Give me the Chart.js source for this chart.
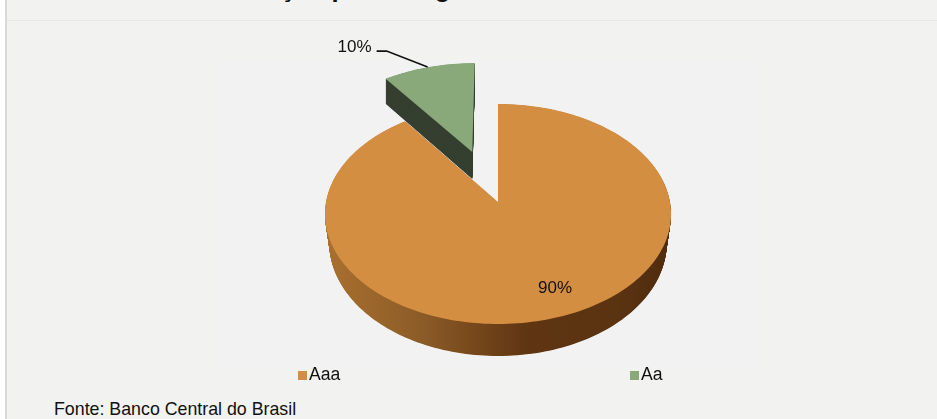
<!DOCTYPE html>
<html lang="pt">
<head>
<meta charset="utf-8">
<title>Distribuição por rating</title>
<script src="https://cdn.jsdelivr.net/npm/chart.js@4"></script>
<style>
    html, body { margin: 0; padding: 0; background: #fff; overflow: hidden; }
    body { font-family: "Liberation Sans", Arial, sans-serif; color: #111; }
    #frame { position: absolute; left: 5px; top: 0; width: 932px; height: 419px; background: #f2f2f0; border-left: 2px solid #d9d9d9; box-sizing: border-box; overflow: hidden; }
    #rule { position: absolute; left: 0; right: 0; top: 20px; height: 1px; background: #e7e7e5; }
    #plot { position: absolute; left: 205px; top: 60px; width: 548px; height: 305px; background: #f2f2f3; }
    #title { position: absolute; left: 170px; top: -27px; font-weight: bold; font-size: 25.5px; line-height: 30px; white-space: nowrap; }
    #source { position: absolute; left: 47px; top: 399px; font-size: 17.8px; line-height: 20px; white-space: nowrap; }
    canvas { position: absolute; left: 0; top: 0; }
    .key { position: absolute; top: 364px; font-size: 17.6px; line-height: 20px; white-space: nowrap; }
    .key i { display: inline-block; width: 9px; height: 9px; margin-right: 2px; }
</style>
</head>
<body>
<div id="frame">
    <div id="title">Distribuição por rating</div>
    <div id="rule"></div>
    <div id="plot"></div>
    <div id="source">Fonte: Banco Central do Brasil</div>
</div>
<canvas id="pieChart" width="937" height="419"></canvas>
<script>
const categories = ['Aaa', 'Aa'];
const shares = [90, 10];
const sliceColors = ['#d38e42', '#8aa97b'];
const keyLeft = [298, 630];

// Tilted disc: horizontal radius, vertical radius, perspective strength, wall height
const tilt = { a: 172, b: 108.7, k: 0.109, depth: 28.5 };
// How much each slice's base narrows compared with its top surface
const wallTaper = [0.025, 0];

// Unit-disc point to screen, nearer (lower) points come out larger
function project(arc, u, v) {
    const w = 1 - tilt.k * v;
    return { x: arc.x + tilt.a * u / w, y: arc.y + tilt.b * v / w, w: w };
}

// Outline of one slice on the unit disc, shifted out by its explode offset
function sliceOutline(arc) {
    const mid = (arc.startAngle + arc.endAngle) / 2;
    const shift = arc.options.offset / arc.outerRadius;
    const ox = Math.cos(mid) * shift;
    const oy = Math.sin(mid) * shift;
    const pts = [project(arc, ox, oy)];
    const steps = Math.ceil((arc.endAngle - arc.startAngle) * 40);
    for (let i = 0; i <= steps; i++) {
        const t = arc.startAngle + (arc.endAngle - arc.startAngle) * i / steps;
        pts.push(project(arc, ox + Math.cos(t), oy + Math.sin(t)));
    }
    return pts;
}

function wallFill(ctx, index) {
    if (index === 1) return '#353f30';
    const g = ctx.createLinearGradient(327, 0, 670, 0);
    g.addColorStop(0, '#a9702f');
    g.addColorStop(0.27, '#8c5c28');
    g.addColorStop(0.42, '#78491c');
    g.addColorStop(0.58, '#5f3512');
    g.addColorStop(0.85, '#5a3311');
    g.addColorStop(1, '#4f2c0e');
    return g;
}

function traceOutline(ctx, pts, centerX, drop, narrow) {
    ctx.beginPath();
    pts.forEach((p, j) => {
        const x = centerX + (p.x - centerX) * (1 - narrow);
        const y = p.y + drop / p.w;
        if (j) ctx.lineTo(x, y); else ctx.moveTo(x, y);
    });
    ctx.closePath();
    ctx.fill();
}

// Replaces the flat arcs with the extruded disc and its labels
const tiltedPie = {
    id: 'tiltedPie',
    beforeDatasetDraw(chart, args) {
        const ctx = chart.ctx;
        const arcs = chart.getDatasetMeta(args.index).data;
        ctx.save();
        arcs.forEach((arc, i) => {
            const pts = sliceOutline(arc);
            // wall: stack the outline from the base up to the top surface
            ctx.fillStyle = wallFill(ctx, i);
            for (let d = tilt.depth; d > 0; d -= 0.5) {
                traceOutline(ctx, pts, arc.x, d, wallTaper[i] * d / tilt.depth);
            }
            ctx.fillStyle = arc.options.backgroundColor;
            traceOutline(ctx, pts, arc.x, 0, 0);
        });

        ctx.font = '17px "Liberation Sans", Arial, sans-serif';
        ctx.fillStyle = '#111';
        ctx.textAlign = 'center';
        ctx.textBaseline = 'middle';

        // large slice: label sits inside the top surface
        const inside = project(arcs[0], 0.305, 0.728);
        ctx.fillText(shares[0] + '%', inside.x, inside.y);

        // small slice: label outside, tied to the rim with a leader
        const small = arcs[1];
        const mid = (small.startAngle + small.endAngle) / 2;
        const shift = small.options.offset / small.outerRadius;
        const rim = project(small, Math.cos(mid) * (1 + shift), Math.sin(mid) * (1 + shift));
        ctx.fillText(shares[1] + '%', rim.x - 74, rim.y - 20);
        ctx.strokeStyle = '#111';
        ctx.lineWidth = 1.6;
        ctx.beginPath();
        ctx.moveTo(rim.x - 52, rim.y - 16);
        ctx.lineTo(rim.x - 42, rim.y - 16);
        ctx.lineTo(rim.x - 1, rim.y);
        ctx.stroke();
        ctx.restore();
        return false;
    }
};

const ctx = document.getElementById('pieChart').getContext('2d');
new Chart(ctx, {
    type: 'pie',
    data: {
        labels: categories,
        datasets: [{
            data: shares,
            backgroundColor: sliceColors,
            borderWidth: 0,
            offset: [0, 82]
        }]
    },
    options: {
        responsive: false,
        animation: false,
        layout: { padding: { left: 59, bottom: 15 } },
        plugins: {
            legend: { display: false },
            tooltip: { enabled: false }
        }
    },
    plugins: [tiltedPie]
});

// Legend row, spread wider than the built-in legend allows
categories.forEach((name, i) => {
    const key = document.createElement('div');
    key.className = 'key';
    key.style.left = keyLeft[i] + 'px';
    key.innerHTML = '<i style="background:' + sliceColors[i] + '"></i>' + name;
    document.body.appendChild(key);
});
</script>
</body>
</html>
